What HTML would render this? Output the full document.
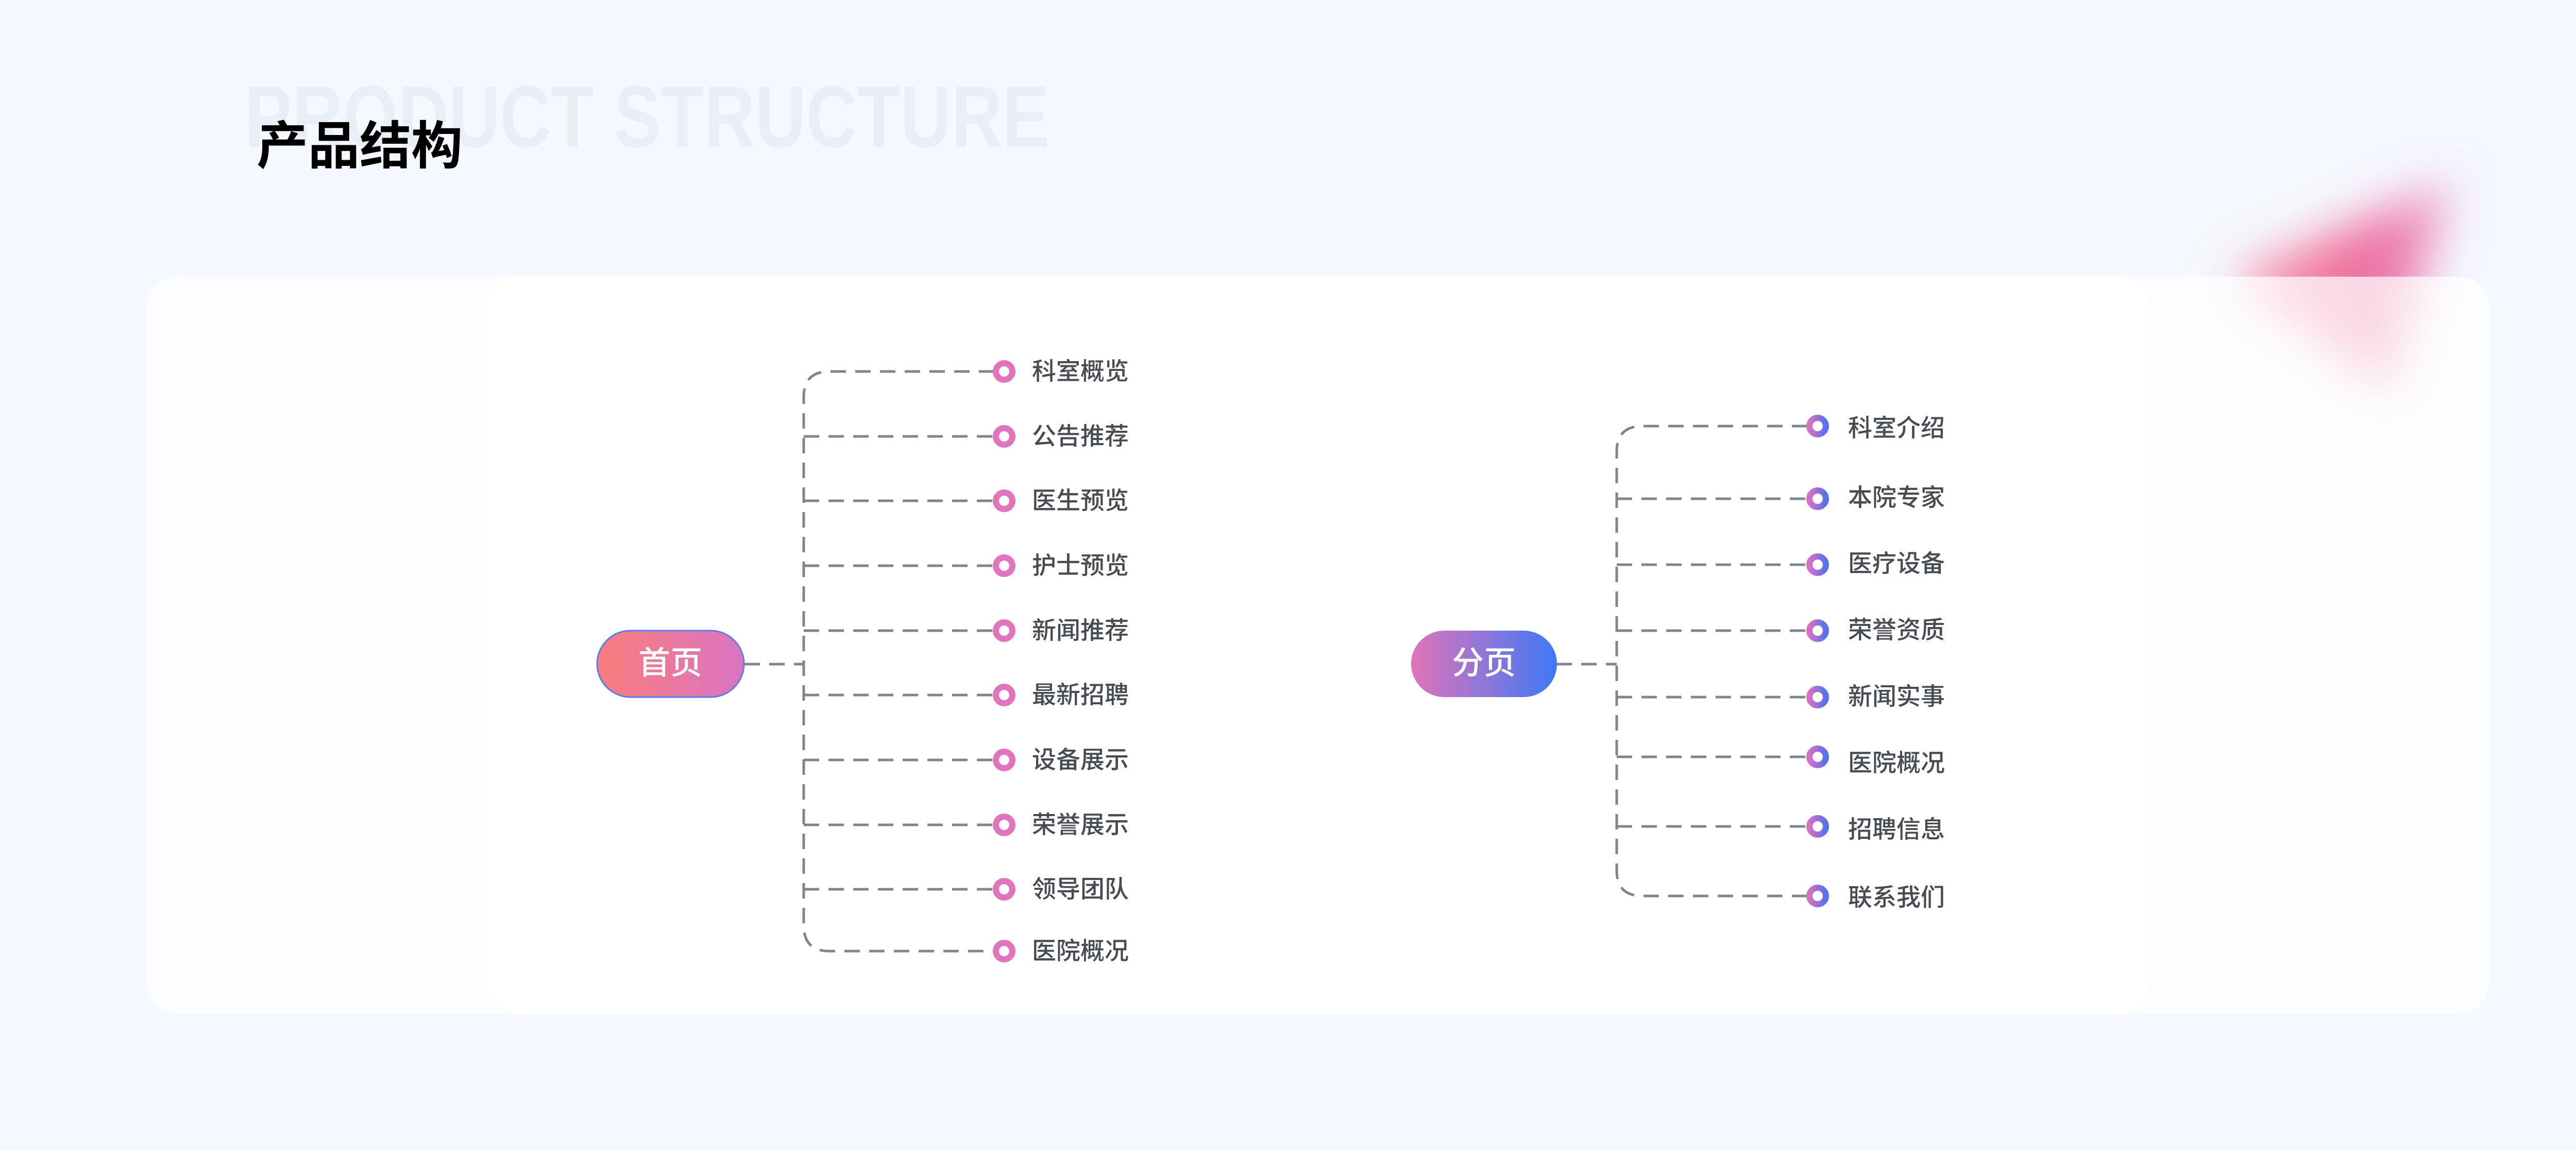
<!DOCTYPE html>
<html><head><meta charset="utf-8"><style>
html,body{margin:0;padding:0;background:#f5f8fe;}
svg{display:block}
text{font-family:"Liberation Sans","Noto Sans CJK SC",sans-serif;}
</style></head><body>
<svg width="5069" height="2234" viewBox="0 0 5069 2234" xmlns="http://www.w3.org/2000/svg">
<defs>
<linearGradient id="g1" x1="0" x2="1" y1="0" y2="0"><stop offset="0" stop-color="#f97d7a"/><stop offset="1" stop-color="#da74c2"/></linearGradient>
<linearGradient id="g2" x1="0" x2="1" y1="0" y2="0"><stop offset="0" stop-color="#df74b8"/><stop offset="1" stop-color="#3f78f6"/></linearGradient>
<linearGradient id="gd" x1="0" x2="1" y1="0" y2="0"><stop offset="0" stop-color="#d870c4"/><stop offset="1" stop-color="#5670ee"/></linearGradient>
<linearGradient id="gb" x1="0" x2="1" y1="0" y2="0"><stop offset="0" stop-color="#f59aae"/><stop offset="0.6" stop-color="#ee6c9c"/><stop offset="1" stop-color="#e9a0d0"/></linearGradient>
<filter id="blur" x="-50%" y="-50%" width="200%" height="200%"><feGaussianBlur stdDeviation="45"/></filter>
</defs>
<rect width="5069" height="2234" fill="#f5f8fe"/>
<text x="475" y="285" font-size="170" font-weight="bold" fill="#e9eff7" textLength="1562" lengthAdjust="spacingAndGlyphs">PRODUCT  STRUCTURE</text>
<text x="498" y="318" font-size="100" font-weight="bold" fill="#000">产品结构</text>
<polygon points="4330,540 4760,350 4640,760" fill="url(#gb)" filter="url(#blur)"/>
<rect x="284" y="537" width="4548" height="1430" rx="60" fill="#ffffff" opacity="0.72"/>
<rect x="943" y="537" width="3231" height="1430" rx="60" fill="#ffffff"/>
<g fill="none" stroke="#80858c" stroke-width="5" stroke-dasharray="30 18">
<path d="M1445,1289 H1560"/>
<path d="M1930,721 H1610 Q1560,721 1560,771 V1796 Q1560,1846 1610,1846 H1930"/>
<path d="M1560,847 H1930 M1560,972 H1930 M1560,1098 H1930 M1560,1224 H1930 M1560,1349 H1930 M1560,1475 H1930 M1560,1601 H1930 M1560,1726 H1930"/>
<path d="M3021,1289 H3138"/>
<path d="M3508,827 H3188 Q3138,827 3138,877 V1689 Q3138,1739 3188,1739 H3508"/>
<path d="M3138,968 H3508 M3138,1096 H3508 M3138,1224 H3508 M3138,1353 H3508 M3138,1469 H3508 M3138,1604 H3508"/>
</g>
<rect x="1159" y="1224" width="285" height="129" rx="64.5" fill="url(#g1)" stroke="#5a7cf2" stroke-width="3"/>
<text x="1301" y="1308" font-size="62" font-weight="500" fill="#fff" text-anchor="middle">首页</text>
<rect x="2739" y="1224" width="283" height="129" rx="64.5" fill="url(#g2)"/>
<text x="2880" y="1308" font-size="62" font-weight="500" fill="#fff" text-anchor="middle">分页</text>
<g fill="none" stroke="#e274bd" stroke-width="12">
<circle cx="1949" cy="721" r="16"/><circle cx="1949" cy="847" r="16"/><circle cx="1949" cy="972" r="16"/><circle cx="1949" cy="1098" r="16"/><circle cx="1949" cy="1224" r="16"/><circle cx="1949" cy="1349" r="16"/><circle cx="1949" cy="1475" r="16"/><circle cx="1949" cy="1601" r="16"/><circle cx="1949" cy="1726" r="16"/><circle cx="1949" cy="1846" r="16"/>
</g>
<g fill="none" stroke="url(#gd)" stroke-width="12">
<circle cx="3528" cy="827" r="16"/><circle cx="3528" cy="968" r="16"/><circle cx="3528" cy="1096" r="16"/><circle cx="3528" cy="1224" r="16"/><circle cx="3528" cy="1353" r="16"/><circle cx="3528" cy="1469" r="16"/><circle cx="3528" cy="1604" r="16"/><circle cx="3528" cy="1739" r="16"/>
</g>
<g font-size="47" font-weight="500" fill="#474c53">
<text x="2003" y="737">科室概览</text><text x="2003" y="863">公告推荐</text><text x="2003" y="988">医生预览</text><text x="2003" y="1114">护士预览</text><text x="2003" y="1240">新闻推荐</text><text x="2003" y="1365">最新招聘</text><text x="2003" y="1491">设备展示</text><text x="2003" y="1617">荣誉展示</text><text x="2003" y="1742">领导团队</text><text x="2003" y="1862">医院概况</text>
<text x="3587" y="847">科室介绍</text><text x="3587" y="982">本院专家</text><text x="3587" y="1110">医疗设备</text><text x="3587" y="1239">荣誉资质</text><text x="3587" y="1368">新闻实事</text><text x="3587" y="1497">医院概况</text><text x="3587" y="1626">招聘信息</text><text x="3587" y="1758">联系我们</text>
</g>
</svg>
</body></html>
